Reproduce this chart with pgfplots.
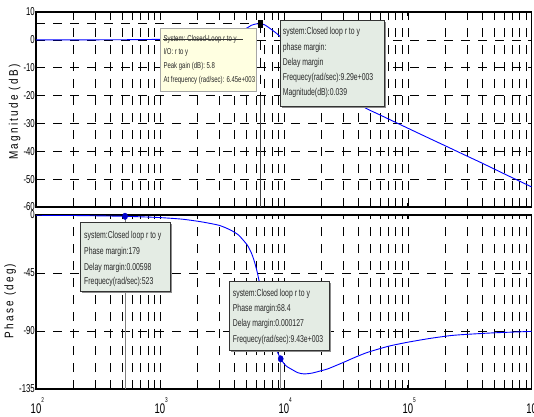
\documentclass[border=0pt]{standalone}
\usepackage{fontspec}
\setmainfont{Liberation Sans}
\usepackage{pgfplots}
\pgfplotsset{compat=1.18}
\newfontfamily\tickfont[FakeStretch=0.68]{Liberation Sans}
\newfontfamily\labfont[FakeStretch=0.8,LetterSpace=18]{Liberation Sans}
\newfontfamily\tipfont[FakeStretch=0.71]{Liberation Sans}
\newfontfamily\boxfont[FakeStretch=0.69]{Liberation Sans}
\definecolor{tipyellow}{RGB}{255,255,225}
\definecolor{tipgreen}{RGB}{228,236,228}
\definecolor{curveblue}{RGB}{0,0,255}
\definecolor{mkblue}{RGB}{0,0,205}
\definecolor{txt}{RGB}{40,40,40}
\pgfplotsset{bodestyle/.style={
  xmin=100, xmax=1000000,
  width=495.7bp, scale only axis,
  axis line style={line width=1.1bp, black},
  xtick={100,1000,10000,100000,1000000},
  minor xtick={200,300,400,500,600,700,800,900,2000,3000,4000,5000,6000,7000,8000,9000,20000,30000,40000,50000,60000,70000,80000,90000,200000,300000,400000,500000,600000,700000,800000,900000},
  xmajorgrids, xminorgrids, ymajorgrids,
  major grid style={black, line width=0.55bp, dash pattern=on 9bp off 8bp},
  minor grid style={black, line width=0.55bp, dash pattern=on 9bp off 8bp},
  tick style={black, line width=0.6bp},
  major tick length=4bp, minor tick length=2bp,
  tick align=inside,
  yticklabel style={font={\tickfont\fontsize{11.5}{11.5}\selectfont}, inner sep=1bp},
}}
\newcommand{\decsup}[1]{10\rlap{\raisebox{11bp}{\fontsize{7}{7}\selectfont #1}}}
\begin{document}
\begin{tikzpicture}
% ---------- Magnitude ----------
\begin{semilogxaxis}[bodestyle, name=top, at={(36bp,-207bp)}, anchor=south west,
  height=195bp, ymin=-60, ymax=10,
  ytick={-60,-50,-40,-30,-20,-10,0,10},
  yticklabels={-60,-50,-40,-30,-20,-10,0,10},
  xticklabels={},
  ylabel={\labfont\fontsize{12.5}{12.5}\selectfont Magnitude (dB)},
  ylabel style={at={(axis description cs:-0.043,0.487)}, anchor=center}]
\addplot[black, line width=0.55bp, dash pattern=on 9bp off 8bp] coordinates {(100,5.8) (6450,5.8)};
\addplot[black, line width=0.55bp, dash pattern=on 9bp off 8bp] coordinates {(6450,5.8) (6450,-20)};
\addplot[black!75, line width=0.6bp] coordinates {(6450,-20) (6450,-60)};
\addplot[curveblue, line width=0.9bp, smooth, tension=0.4] coordinates {
(100,0) (200,0.01) (300,0.02) (500,0.05) (700,0.1) (1000,0.2) (1500,0.45) (2000,0.8) (3000,1.7) (4000,2.8)
(4920,4.0) (5450,5.2) (5950,5.7) (6450,5.8) (7000,5.4) (7850,3.9) (8800,2.2) (9460,0.9)
(10000,0.2) (11000,-1.5) (13000,-4.5) (16000,-8) (20000,-12) (25000,-15.5) (32000,-19.5) (44500,-24.2)
(60000,-27.0) (100000,-31.7) (150000,-35.4) (200000,-38.0) (300000,-41.7) (400000,-44.3) (600000,-48.1) (1000000,-52.8)};
\addplot[only marks, mark=square*, mark size=2.4bp, mark options={fill=black, draw=black, line width=0.4bp, xscale=0.8, yscale=1.3}] coordinates {(6450,5.8)};
\end{semilogxaxis}
% ---------- Phase ----------
\begin{semilogxaxis}[bodestyle, name=bot, at={(36bp,-389bp)}, anchor=south west,
  height=174bp, ymin=-135, ymax=0,
  ytick={-135,-90,-45,0},
  yticklabels={-135,-90,-45,0},
  xticklabels={\decsup{2},\decsup{3},\decsup{4},\decsup{5},\decsup{6}},
  xticklabel style={font={\tickfont\fontsize{14}{14}\selectfont}, inner sep=0bp, yshift=-8bp},
  ylabel={\labfont\fontsize{12.5}{12.5}\selectfont Phase (deg)},
  ylabel style={at={(axis description cs:-0.052,0.506)}, anchor=center}]
\addplot[gray, line width=0.8bp] coordinates {(523,-1) (523,-135)};
\addplot[gray, line width=0.8bp] coordinates {(9430,-111.6) (9430,-135)};
\addplot[curveblue, line width=0.9bp, smooth, tension=0.4] coordinates {
(100,-0.2) (200,-0.4) (300,-0.6) (523,-1.0) (700,-1.4) (1000,-2.0) (1500,-3.2) (2130,-5.2) (3000,-8.0)
(3720,-11.7) (4300,-15.5) (4800,-20.5) (5080,-23.4) (5500,-30.0) (5800,-36.5) (6120,-45.0) (6400,-54)
(7000,-72) (7700,-89) (8500,-102) (9430,-111.6) (10400,-117) (11400,-119.4) (13000,-122.4) (14600,-123.3)
(17000,-122.6) (20000,-120.8) (22600,-119.4) (30000,-114.5) (38000,-110.2) (47600,-106.5) (70000,-101.8)
(100000,-98.7) (150000,-95.8) (224000,-93.5) (300000,-92.6) (500000,-91.4) (1000000,-90.3)};
\addplot[only marks, mark=*, mark size=2.6bp, mkblue, mark options={yscale=1.25}] coordinates {(523,-1) (9430,-111.6)};
\end{semilogxaxis}
% ---------- data tips ----------
\fill[tipyellow] (160bp,-28.3bp) rectangle (256.7bp,-91.7bp);
\draw[black!35, line width=0.5bp] (160bp,-28.3bp) rectangle (256.7bp,-91.7bp);
\begin{scope}[every node/.style={anchor=mid west, inner sep=0bp, text=txt, font={\tipfont\fontsize{8.5}{8.5}\selectfont}}]
\node at (163.3bp,-39.3bp) {System: Closed-Loop r to y};
\node at (163.3bp,-51.5bp) {I/O: r to y};
\node at (163.3bp,-66bp) {Peak gain (dB): 5.8};
\node at (163.3bp,-80bp) {At frequency (rad/sec): 6.45e+003};
\end{scope}
\draw[black!80, line width=0.6bp] (163bp,-39.5bp) -- (243bp,-39.5bp);
% box 2
\fill[black!45] (282.2bp,-21.5bp) rectangle (385.5bp,-107.5bp);
\fill[tipgreen] (280.7bp,-20bp) rectangle (384bp,-106bp);
\draw[black!80, line width=0.7bp] (280.7bp,-20bp) rectangle (384bp,-106bp);
% box 3
\fill[black!45] (81.5bp,-224.2bp) rectangle (172.2bp,-293.2bp);
\fill[tipgreen] (80bp,-222.7bp) rectangle (170.7bp,-291.7bp);
\draw[black!80, line width=0.7bp] (80bp,-222.7bp) rectangle (170.7bp,-291.7bp);
% box 4
\fill[black!45] (230.8bp,-283.2bp) rectangle (330.8bp,-352.2bp);
\fill[tipgreen] (229.3bp,-281.7bp) rectangle (329.3bp,-350.7bp);
\draw[black!80, line width=0.7bp] (229.3bp,-281.7bp) rectangle (329.3bp,-350.7bp);
\begin{scope}[every node/.style={anchor=mid west, inner sep=0bp, text=txt, font={\boxfont\fontsize{10}{10}\selectfont}}]
\node at (282.7bp,-32.3bp) {system:Closed loop r to y};
\node at (282.7bp,-48.3bp) {phase margin:};
\node at (282.7bp,-63.3bp) {Delay margin};
\node at (282.7bp,-78.3bp) {Frequecy(rad/sec):9.29e+003};
\node at (282.7bp,-93.3bp) {Magnitude(dB):0.039};
\node at (84bp,-236bp) {system:Closed loop r to y};
\node at (84bp,-252.3bp) {Phase margin:179};
\node at (84bp,-267.7bp) {Delay margin:0.00598};
\node at (84bp,-282.3bp) {Frequecy(rad/sec):523};
\node at (232.7bp,-294bp) {system:Closed loop r to y};
\node at (232.7bp,-309bp) {Phase margin:68.4};
\node at (232.7bp,-324.3bp) {Delay margin:0.000127};
\node at (232.7bp,-340bp) {Frequecy(rad/sec):9.43e+003};
\end{scope}
\pgfresetboundingbox
\path[use as bounding box] (0bp,0bp) rectangle (534bp,-417bp);
\end{tikzpicture}
\end{document}
